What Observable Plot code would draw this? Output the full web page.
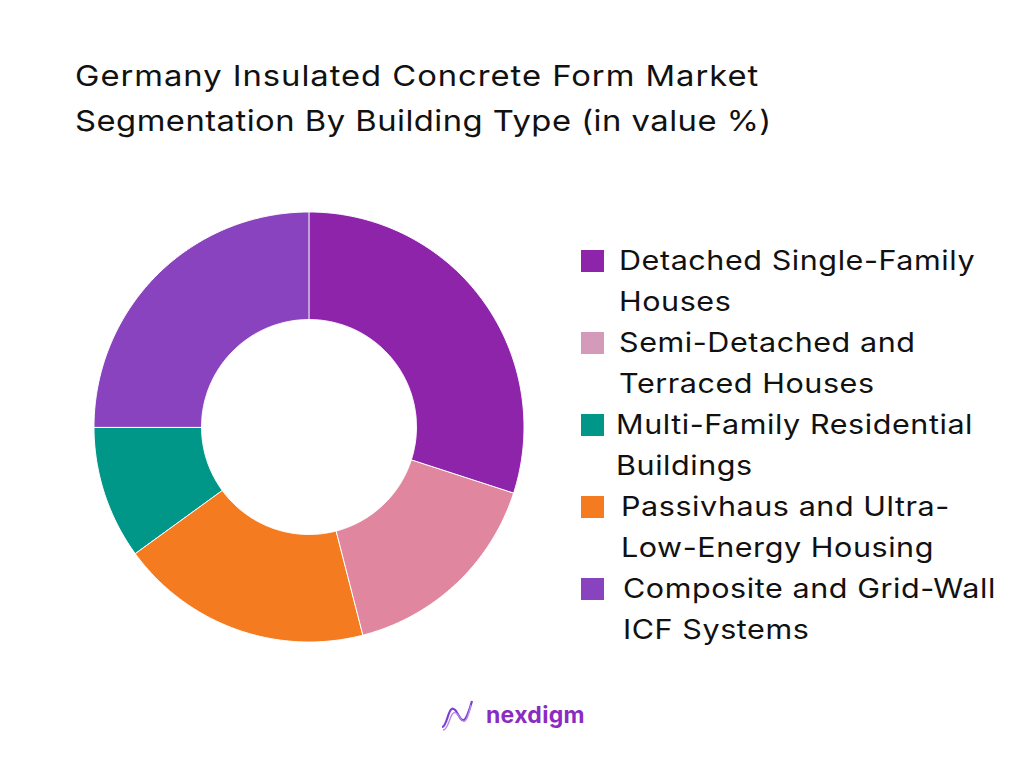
<!DOCTYPE html>
<html>
<head>
<meta charset="utf-8">
<script src="https://cdn.jsdelivr.net/npm/d3@7"></script>
<script src="https://cdn.jsdelivr.net/npm/@observablehq/plot@0.6"></script>
<style>
  html, body { margin: 0; padding: 0; background: #fff; }
  body { width: 1024px; height: 768px; position: relative; overflow: hidden; font-family: "Inter", "Lato", sans-serif; color: #111; }
  #title { position: absolute; left: 75px; top: 53px; font-size: 29px; line-height: 45px; letter-spacing: 0.85px; font-weight: 400; transform: scaleX(1.13); transform-origin: left top; white-space: nowrap; }
  #title .l2 { letter-spacing: 0.42px; }
  #chart { position: absolute; left: 89px; top: 207px; }
  #legend { position: absolute; left: 581px; top: 240px; }
  .item { position: relative; margin-bottom: 0; }
  .sw { position: absolute; left: 0; top: 10px; width: 23px; height: 22px; }
  .lab { margin-left: 38px; font-size: 27px; line-height: 41px; letter-spacing: 0.5px; white-space: nowrap; transform: scaleX(1.13); transform-origin: left top; }
  #logo { position: absolute; left: 440px; top: 697px; display: flex; align-items: center; }
  #logo span { font-family: "Inter", sans-serif; font-weight: 700; font-size: 23px; color: #8A2BC2; margin-left: 12px; letter-spacing: 0.3px; }
</style>
</head>
<body>
<div id="title"><span class="l1">Germany Insulated Concrete Form Market</span><br><span class="l2">Segmentation By Building Type (in value %)</span></div>
<div id="chart"></div>
<div id="legend"></div>
<div id="logo">
  <svg width="34" height="36" viewBox="0 0 34 36">
    <path d="M2 30 C8 30, 8 4, 16 14 C22 24, 24 32, 32 4" fill="none" stroke="#7A3FD0" stroke-width="2.2"/>
    <path d="M3 33 C10 33, 10 8, 18 18 C23 26, 26 30, 31 8" fill="none" stroke="#B98BE8" stroke-width="1.4"/>
  </svg>
  <span>nexdigm</span>
</div>
<script>
// Data (clockwise from 12 o'clock, as drawn)
const categories = [
  "Detached Single-Family Houses",
  "Semi-Detached and Terraced Houses",
  "Passivhaus and Ultra-Low-Energy Housing",
  "Multi-Family Residential Buildings",
  "Composite and Grid-Wall ICF Systems"
];
const values = [30, 16, 19, 10, 25];
const sliceColors = ["#8E24AA", "#E0879F", "#F47B20", "#009688", "#8943BE"];

// Legend order and labels
const legendLabels = [
  ["Detached Single-Family", "Houses"],
  ["Semi-Detached and", "Terraced Houses"],
  ["Multi-Family Residential", "Buildings"],
  ["Passivhaus and Ultra-", "Low-Energy Housing"],
  ["Composite and Grid-Wall", "ICF Systems"]
];
const legendColors = ["#8E24AA", "#D49AB9", "#009688", "#F47B20", "#8943BE"];
const legendIndent = [38, 38, 35, 40, 42];

// Build annular-sector outlines from the pie layout
const pie = d3.pie().sort(null).value(d => d.v).startAngle(0).endAngle(2 * Math.PI);
const arcs = pie(categories.map((c, i) => ({c, v: values[i]})));
const inner = 0.5, outer = 1;
const pts = [];
for (const a of arcs) {
  const n = Math.max(2, Math.ceil((a.endAngle - a.startAngle) / (Math.PI / 360)));
  for (let k = 0; k <= n; k++) {
    const t = a.startAngle + (a.endAngle - a.startAngle) * k / n;
    pts.push({
      name: a.data.c,
      xi: inner * Math.sin(t), yi: inner * Math.cos(t),
      xo: outer * Math.sin(t), yo: outer * Math.cos(t)
    });
  }
}

const chart = Plot.plot({
  width: 440,
  height: 440,
  margin: 5,
  x: {domain: [-1, 1], axis: null},
  y: {domain: [-1, 1], axis: null},
  color: {domain: categories, range: sliceColors},
  marks: [
    Plot.area(pts, {x1: "xi", y1: "yi", x2: "xo", y2: "yo", fill: "name", z: "name", curve: "linear", stroke: "white", strokeWidth: 1})
  ]
});
document.getElementById("chart").appendChild(chart);

const lg = document.getElementById("legend");
legendLabels.forEach((lines, i) => {
  const it = document.createElement("div");
  it.className = "item";
  it.innerHTML = `<div class="sw" style="background:${legendColors[i]}"></div><div class="lab" style="margin-left:${legendIndent[i]}px">${lines.join("<br>")}</div>`;
  lg.appendChild(it);
});
</script>
</body>
</html>
